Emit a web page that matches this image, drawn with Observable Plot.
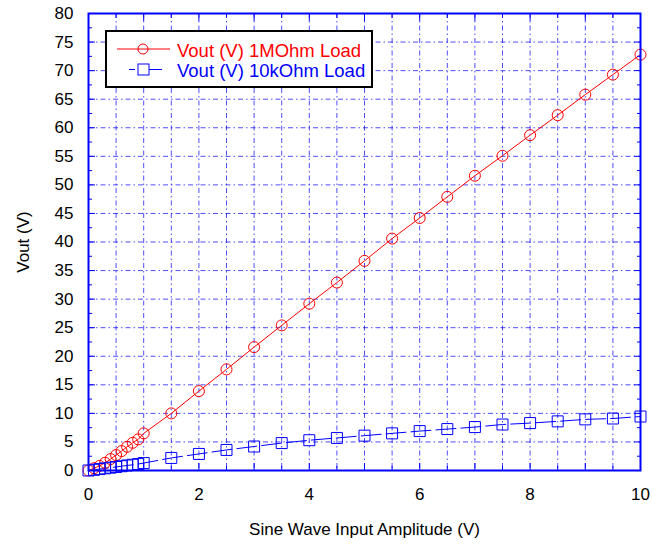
<!DOCTYPE html>
<html><head><meta charset="utf-8">
<script src="https://cdn.jsdelivr.net/npm/d3@7"></script>
<script src="https://cdn.jsdelivr.net/npm/@observablehq/plot@0.6"></script>
<style>
body{margin:0;background:#fff;}
#wrap{position:relative;width:652px;height:544px;font-family:"Liberation Sans",Arial,sans-serif;}
#legend{position:absolute;left:105px;top:30px;width:268px;height:58px;box-sizing:border-box;border:2px solid #000;background:#fff;}
#legend svg{display:block;}
</style></head><body><div id="wrap"></div>
<script>
// ---- data ----
const inputV = [0,0.1,0.2,0.3,0.4,0.5,0.6,0.7,0.8,0.9,1.0,1.5,2,2.5,3,3.5,4,4.5,5,5.5,6,6.5,7,7.5,8,8.5,9,9.5,10];
const vout1M = [0,0.4,0.8,1.35,2.0,2.7,3.4,4.15,4.85,5.45,6.5,10.0,13.9,17.7,21.6,25.4,29.2,32.9,36.7,40.6,44.2,47.9,51.6,55.1,58.7,62.2,65.8,69.3,72.8];
const vout10k = [0,0.12,0.25,0.38,0.5,0.62,0.75,0.88,1.0,1.13,1.3,2.2,2.9,3.6,4.2,4.8,5.3,5.7,6.1,6.5,6.9,7.25,7.6,8.05,8.3,8.6,8.95,9.1,9.45];
const seriesNames = ["Vout (V) 1MOhm Load","Vout (V) 10kOhm Load"];
const xTickLabels = [0,2,4,6,8,10];
const xMajorTicks = [0,1,2,3,4,5,6,7,8,9,10];
const xMinorTicks = [0.5,1.5,2.5,3.5,4.5,5.5,6.5,7.5,8.5,9.5];
const xGridTicks = [0.5,1,1.5,2,2.5,3,3.5,4,4.5,5,5.5,6,6.5,7,7.5,8,8.5,9,9.5];
const yTickLabels = [0,5,10,15,20,25,30,35,40,45,50,55,60,65,70,75,80];
const yMinorTicks = [2.5,7.5,12.5,17.5,22.5,27.5,32.5,37.5,42.5,47.5,52.5,57.5,62.5,67.5,72.5,77.5];
const yGridTicks = [5,10,15,20,25,30,35,40,45,50,55,60,65,70,75];
const xLabel = "Sine Wave Input Amplitude (V)";
const yLabel = "Vout (V)";

const red = "#ff0000", blue = "#0000ff";
const rows1M = inputV.map((x,i)=>({x, y: vout1M[i]}));
const rows10k = inputV.map((x,i)=>({x, y: vout10k[i]}));
const gridStyle = {stroke: blue, strokeOpacity: 0.7, strokeWidth: 1, strokeDasharray: "5,3,1.5,3"};
const noText = () => "";

const chart = Plot.plot({
  width: 652, height: 544,
  marginLeft: 88, marginRight: 12, marginTop: 13, marginBottom: 74,
  x: {domain: [0,10]},
  y: {domain: [0,80]},
  style: {fontFamily: "'Liberation Sans', Arial, sans-serif", fontSize: "17px", color: "#000", background: "#fff"},
  marks: [
    Plot.gridX(xGridTicks, gridStyle),
    Plot.gridY(yGridTicks, gridStyle),
    Plot.line(rows10k, {x: "x", y: "y", stroke: blue, strokeWidth: 1, strokeDasharray: "20,5"}),
    Plot.line(rows1M, {x: "x", y: "y", stroke: red, strokeWidth: 1}),
    Plot.dot(rows1M, {x: "x", y: "y", r: 5.5, symbol: "circle", stroke: red, fill: "none", strokeWidth: 1}),
    Plot.dot(rows10k, {x: "x", y: "y", r: 6.2, symbol: "square", stroke: blue, fill: "none", strokeWidth: 1}),
    Plot.frame({stroke: blue, strokeWidth: 2}),
    // inward ticks
    Plot.axisX(xMajorTicks, {anchor: "bottom", tickSize: -7, tickFormat: noText, label: null, stroke: blue}),
    Plot.axisX(xMinorTicks, {anchor: "bottom", tickSize: -4, tickFormat: noText, label: null, stroke: blue}),
    Plot.axisX(xMajorTicks, {anchor: "top", tickSize: -7, tickFormat: noText, label: null, stroke: blue}),
    Plot.axisX(xMinorTicks, {anchor: "top", tickSize: -4, tickFormat: noText, label: null, stroke: blue}),
    Plot.axisY(yTickLabels, {anchor: "left", tickSize: -7, tickFormat: noText, label: null, stroke: blue}),
    Plot.axisY(yMinorTicks, {anchor: "left", tickSize: -4, tickFormat: noText, label: null, stroke: blue}),
    Plot.axisY(yTickLabels, {anchor: "right", tickSize: -7, tickFormat: noText, label: null, stroke: blue}),
    Plot.axisY(yMinorTicks, {anchor: "right", tickSize: -4, tickFormat: noText, label: null, stroke: blue}),
    // labels
    Plot.axisX(xTickLabels, {anchor: "bottom", tickSize: 0, tickPadding: 17, fontSize: 17, fill: "#000",
      label: xLabel, labelArrow: "none", labelAnchor: "center", labelOffset: 64}),
    Plot.axisY(yTickLabels, {anchor: "left", tickSize: 0, tickPadding: 15, fontSize: 17, fill: "#000",
      label: yLabel, labelArrow: "none", labelAnchor: "center", labelOffset: 72})
  ]
});

const wrap = document.getElementById("wrap");
wrap.appendChild(chart);

// legend
const leg = document.createElement("div");
leg.id = "legend";
wrap.appendChild(leg);
const svg = d3.select(leg).append("svg").attr("width", 264).attr("height", 54);
const rowsY = [17, 37.5];
const cols = [red, blue];
// red row
svg.append("line").attr("x1", 10).attr("x2", 63).attr("y1", rowsY[0]).attr("y2", rowsY[0]).attr("stroke", red);
svg.append("circle").attr("cx", 36).attr("cy", rowsY[0]).attr("r", 5).attr("stroke", red).attr("fill", "none");
// blue row
svg.append("line").attr("x1", 22).attr("x2", 28).attr("y1", rowsY[1]).attr("y2", rowsY[1]).attr("stroke", blue);
svg.append("line").attr("x1", 42).attr("x2", 55).attr("y1", rowsY[1]).attr("y2", rowsY[1]).attr("stroke", blue);
svg.append("rect").attr("x", 31).attr("y", rowsY[1]-5.5).attr("width", 11).attr("height", 11).attr("stroke", blue).attr("fill", "none");
seriesNames.forEach((name, i) => {
  svg.append("text").attr("x", 70).attr("y", rowsY[i] + 7.5)
    .attr("fill", cols[i]).attr("font-size", 18.5)
    .attr("font-family", "'Liberation Sans', Arial, sans-serif")
    .text(name);
});
</script>
</body></html>
